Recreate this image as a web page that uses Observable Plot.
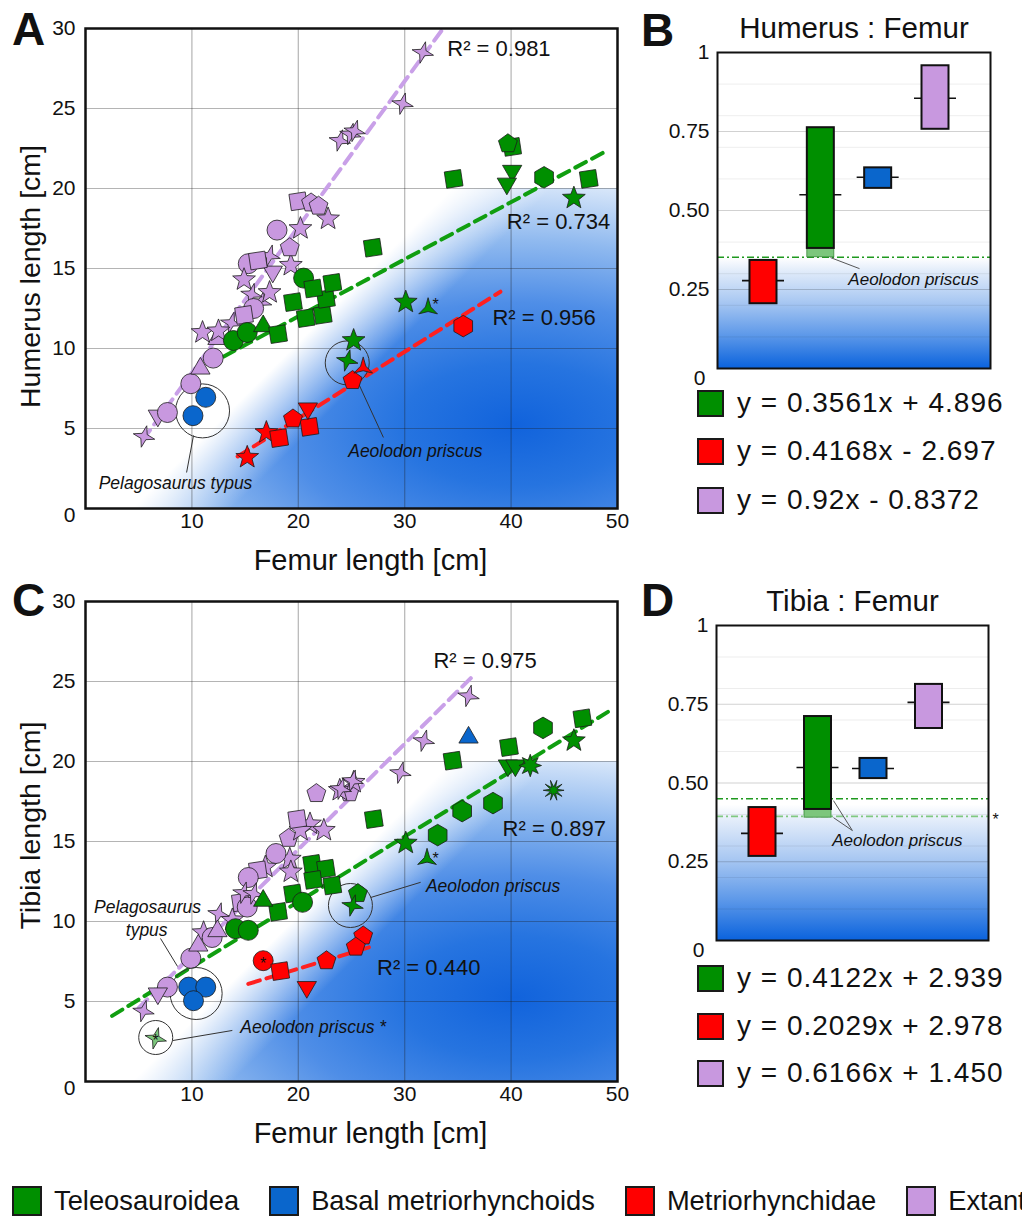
<!DOCTYPE html>
<html><head><meta charset="utf-8">
<script src="https://cdn.jsdelivr.net/npm/d3@7"></script>
<script src="https://cdn.jsdelivr.net/npm/@observablehq/plot@0.6"></script>
<style>
html,body{margin:0;padding:0;background:#fff;}
#root{position:relative;width:1022px;height:1216px;overflow:hidden;font-family:"Liberation Sans",Arial,sans-serif;color:#111;background:#fff;}
.letter{position:absolute;font-weight:bold;font-size:46px;line-height:46px;}
.eq{position:absolute;display:flex;align-items:center;height:28px;font-size:28px;letter-spacing:1px;white-space:nowrap;}
.eq .sw{width:23px;height:23px;border:2px solid #1a1a1a;margin-right:13px;flex:none;}
#bottomLegend{position:absolute;left:12px;top:1185px;display:flex;align-items:center;white-space:nowrap;font-size:27.3px;}
#bottomLegend .item{display:flex;align-items:center;margin-right:30px;}
#bottomLegend .sw{width:26px;height:26px;border:2px solid #1a1a1a;margin-right:12px;flex:none;}
</style></head><body><div id="root"></div><script>
// ---------------- DATA ----------------
// Panel A: femur length (cm), humerus length (cm), symbol
const A_extant = [
  [5.5,4.5,"star4"],[6.8,5.8,"triangleDown"],[7.7,6.0,"circle"],[9.9,7.8,"circle"],
  [10.8,8.75,"triangle"],[12.0,9.4,"circle"],[12.4,10.6,"triangle"],[11.0,11.0,"star5"],
  [12.5,11.1,"star5"],[13.7,11.6,"star4"],[14.9,12.1,"square"],[15.8,12.5,"circle"],
  [16.5,12.9,"star4"],[15.6,13.4,"star4"],[17.3,13.5,"star5"],[14.9,14.3,"star5"],
  [17.6,14.8,"triangleDown"],[15.3,15.3,"circle"],[16.2,15.5,"square"],[17.3,15.8,"star4"],
  [19.3,15.2,"star5"],[19.2,16.3,"pentagon"],[18.0,17.4,"circle"],[20.2,17.5,"star5"],
  [22.8,18.1,"star5"],[20.0,19.2,"square"],[21.2,19.1,"pentagon"],[21.9,18.9,"pentagon"],
  [23.9,23.0,"star4"],[24.9,23.4,"star4"],[25.3,23.6,"star4"],[29.8,25.3,"star4"],[31.7,28.5,"star4"]
];
const A_teleo = [
  [13.9,10.5,"circle"],[15.2,11.0,"circle"],[16.7,11.4,"triangle"],[18.1,10.9,"square"],
  [19.5,12.9,"square"],[20.7,11.9,"square"],[22.3,12.1,"square"],[22.6,13.1,"square"],
  [21.4,13.75,"square"],[23.2,14.1,"square"],[20.5,14.4,"circle"],
  [25.2,10.5,"star5"],[24.6,9.25,"star4"],[30.1,12.9,"star5"],[32.2,12.5,"star3"],
  [27.0,16.3,"square"],[34.6,20.6,"square"],[39.7,22.8,"pentagon"],[40.1,22.6,"square"],
  [40.1,21.1,"triangleDown"],[39.6,20.3,"triangleDown"],[43.1,20.7,"hexagon"],[47.3,20.6,"square"],[45.9,19.4,"star5"]
];
const A_metrio = [
  [15.2,3.2,"star5"],[17.0,4.75,"star5"],[18.2,4.4,"square"],[19.5,5.6,"pentagon"],
  [20.9,6.25,"triangleDown"],[21.05,5.1,"square"],[25.1,8.0,"pentagon"],[26.1,8.8,"star3"],[35.5,11.4,"hexagon"]
];
const A_basal = [[11.3,6.95,"circle"],[10.1,5.8,"circle"]];
const A_fitExtant = [[5.4,4.3],[33.5,29.9]];
const A_fitTeleo = [[13.0,9.5],[49.1,22.4]];
const A_fitMetrio = [[14.3,3.25],[39.0,13.55]];
const A_r2 = [[34.0,28.75,"0.981"],[39.6,17.9,"0.734"],[38.25,11.9,"0.956"]];
const A_notes = [[8.46,1.56,"Pelagosaurus typus"],[31.0,3.56,"Aeolodon priscus"]];
const A_circles = [[11.0,6.1],[24.6,9.1]];
const A_leaders = [[10.15,4.56,9.5,2.25],[25.6,7.9,28.0,4.44]];
const A_asterisks = [[32.9,12.9]];

// Panel C: femur length (cm), tibia length (cm), symbol
const C_extant = [
  [21.7,18.0,"pentagon"],[23.9,18.2,"star5"],[24.8,18.05,"pentagon"],[25.2,18.7,"star5"],
  [19.9,16.4,"square"],[21.1,16.1,"star5"],[20.2,15.7,"star5"],[22.4,15.7,"star5"],
  [19.1,15.2,"pentagon"],[17.9,14.25,"circle"],[19.2,13.9,"star5"],[16.2,13.2,"square"],
  [16.9,13.4,"star5"],[19.3,13.1,"star5"],[15.3,12.75,"circle"],
  [36.0,24.1,"star4"],[31.8,21.3,"star4"],[29.6,19.3,"star4"],[25.1,18.8,"star4"],[24.0,18.3,"star4"],
  [14.85,11.8,"star4"],[14.6,11.2,"square"],[15.2,10.9,"circle"],[15.8,11.75,"star4"],
  [12.5,10.5,"star4"],[13.8,10.1,"star5"],[11.1,9.3,"star5"],[12.4,9.4,"triangle"],
  [11.9,9.0,"circle"],[10.6,8.5,"triangle"],[9.9,7.7,"circle"],[7.7,5.9,"circle"],
  [6.8,5.5,"triangleDown"],[5.45,4.4,"star4"]
];
const C_teleo = [
  [46.7,22.7,"square"],[43.0,22.1,"hexagon"],[45.9,21.3,"star5"],[39.8,20.9,"square"],
  [39.7,19.75,"triangleDown"],[40.4,19.75,"triangleDown"],[41.8,19.75,"star8"],[44.0,18.2,"pinwheel"],
  [38.3,17.4,"hexagon"],[35.4,16.9,"hexagon"],[34.5,20.05,"square"],[27.1,16.4,"square"],
  [33.1,15.4,"hexagon"],[30.1,14.9,"star5"],[32.1,13.9,"star3"],
  [21.3,13.6,"square"],[22.6,13.3,"square"],[21.4,12.6,"square"],[23.2,12.25,"square"],
  [19.5,11.75,"square"],[20.4,11.2,"circle"],[16.7,11.3,"triangle"],[18.1,10.6,"square"],
  [14.1,9.55,"circle"],[15.3,9.45,"circle"],[25.6,11.75,"pentagon"],[25.1,11.0,"star4"]
];
const C_aeolodonAlt = [[6.6,2.7,"star4"]];
const C_metrio = [
  [16.7,7.55,"circle"],[18.3,6.9,"square"],[20.8,5.9,"triangleDown"],[22.65,7.55,"pentagon"],
  [26.1,9.1,"pentagon"],[25.4,8.4,"pentagon"]
];
const C_basal = [[9.7,5.9,"circle"],[11.3,5.9,"circle"],[10.15,5.05,"circle"],[36.0,21.5,"triangle"]];
const C_fitExtant = [[5.0,4.6],[36.5,25.4]];
const C_fitTeleo = [[2.5,4.1],[49.1,23.1]];
const C_fitMetrio = [[15.3,6.1],[27.2,8.5]];
const C_r2 = [[32.7,26.3,"0.975"],[39.2,15.8,"0.897"],[27.4,7.1,"0.440"]];
const C_notes = [[5.83,10.9,"Pelagosaurus"],[5.75,9.44,"typus"],[38.3,12.2,"Aeolodon priscus"],[21.4,3.375,"Aeolodon priscus *"]];
const C_circles = [[10.4,5.5],[24.9,11.0],[6.6,2.75]];
const C_leaders = [[7.05,8.94,8.65,7.19],[26.8,11.5,31.5,12.45],[8.2,2.56,13.8,3.19]];
const C_asterisks = [[32.9,14.1],[16.7,7.55],[6.6,2.7]];

const femurTicks = [10,20,30,40,50];
const lengthTicks = [5,10,15,20,25,30];
const femurGrid = [10,20,30,40];
const lengthGrid = [5,10,15,20,25];
const shadedZone = [{x1:0,x2:50,y1:0,y2:20}];

// Panels B and D: ratio ranges per group
const ratioGroups = ["Metriorhynchidae","Teleosauroidea","Basal metriorhynchoids","Extant"];
const B_low = [0.205,0.38,0.57,0.757];
const B_high = [0.342,0.762,0.635,0.958];
const B_median = [0.278,0.55,0.605,0.855];
const B_aeolodon = [0.352,0.38];
const B_thresholds = [0.352];
const B_shadeTop = 0.35;
const D_low = [0.267,0.416,0.514,0.673];
const D_high = [0.422,0.711,0.578,0.813];
const D_median = [0.34,0.549,0.546,0.756];
const D_aeolodon = [0.39,0.416];
const D_thresholds = [0.45,0.394];
const D_shadeTop = 0.43;
const ratioTicks = [0.25,0.5,0.75,1];
const ratioGrid = [0.1,0.2,0.3,0.4,0.6,0.7,0.8,0.9];
const ratioMajor = [0.25,0.5,0.75];
const B_leaders = [[1.669,0.351,2.175,0.316]];
const B_note = [[3.117,0.282,"Aeolodon priscus"]];
const D_leaders = [[1.779,0.444,2.12,0.349],[1.779,0.39,2.12,0.349]];
const D_note = [[2.93,0.317,"Aeolodon priscus"]];
const D_star = [[4.70,0.394,"*"]];

const B_equations = ["y = 0.3561x + 4.896","y = 0.4168x - 2.697","y = 0.92x - 0.8372"];
const D_equations = ["y = 0.4122x + 2.939","y = 0.2029x + 2.978","y = 0.6166x + 1.450"];
const legendGroups = ["Teleosauroidea","Basal metriorhynchoids","Metriorhynchidae","Extant"];

// ---------------- STYLE ----------------
const GREEN="#008f00", RED="#ff0000", BLUE="#0a66cc", PURPLE="#c898df", LIGHTGREEN="#7cc67c";
const groupColor = {"Teleosauroidea":GREEN,"Basal metriorhynchoids":BLUE,"Metriorhynchidae":RED,"Extant":PURPLE};
const eqColors = [GREEN, RED, PURPLE];
const FONT = '"Liberation Sans", Arial, sans-serif';
const NS = "http://www.w3.org/2000/svg";

function poly(n, rot, k) {
  return {draw(ctx, size) {
    const r = Math.sqrt(size / Math.PI) * k;
    for (let i = 0; i < n; i++) {
      const a = rot + i * 2 * Math.PI / n;
      const x = r * Math.cos(a), y = r * Math.sin(a);
      if (i) ctx.lineTo(x, y); else ctx.moveTo(x, y);
    }
    ctx.closePath();
  }};
}
function star(n, ko, ki, rot) {
  return {draw(ctx, size) {
    const r = Math.sqrt(size / Math.PI);
    for (let i = 0; i < 2 * n; i++) {
      const a = rot + i * Math.PI / n;
      const rr = r * (i % 2 ? ki : ko);
      const x = rr * Math.cos(a), y = rr * Math.sin(a);
      if (i) ctx.lineTo(x, y); else ctx.moveTo(x, y);
    }
    ctx.closePath();
  }};
}
const SYM = {
  circle: {draw(ctx, size) { const r = Math.sqrt(size / Math.PI); ctx.moveTo(r, 0); ctx.arc(0, 0, r, 0, 2 * Math.PI); ctx.closePath(); }},
  square: poly(4, -Math.PI / 4 - 0.15, 1.13),
  triangle: poly(3, -Math.PI / 2, 1.25),
  triangleDown: poly(3, Math.PI / 2, 1.25),
  pentagon: poly(5, -Math.PI / 2, 1.08),
  hexagon: poly(6, -Math.PI / 2, 1.1),
  star5: star(5, 1.3, 0.55, -Math.PI / 2),
  star4: star(4, 1.35, 0.45, -Math.PI / 2 + 0.25),
  star3: star(3, 1.35, 0.38, -Math.PI / 2),
  star8: star(8, 1.25, 0.62, -Math.PI / 2),
  pinwheel: star(10, 1.3, 0.42, 0)
};
const SIZE = {circle:10, square:10.3, triangle:8.9, triangleDown:8.9, pentagon:9.2, hexagon:9.8, star5:9.2, star4:8.2, star3:8, star8:9, pinwheel:8};

function el(tag, attrs, parent) {
  const e = document.createElementNS(NS, tag);
  for (const k in attrs) e.setAttribute(k, attrs[k]);
  if (parent) parent.appendChild(e);
  return e;
}

function scatterDefs(id) {
  return (index, scales) => {
    const cx = scales.x(40.5), cy = scales.y(5.2);
    const defs = el("defs", {});
    const rg = el("radialGradient", {id: id + "r", gradientUnits: "userSpaceOnUse", cx: 0, cy: 0, r: 1,
      gradientTransform: `translate(${cx},${cy}) scale(460,245)`}, defs);
    [[0,"#1163dc"],[0.25,"#2674e0"],[0.5,"#4f8ee7"],[0.75,"#8fb9ef"],[1,"#dce9fa"]]
      .forEach(([o, c]) => el("stop", {offset: o, "stop-color": c}, rg));
    const lg = el("linearGradient", {id: id + "w", gradientUnits: "userSpaceOnUse",
      x1: cx - 150, y1: cy - 150, x2: cx - 100, y2: cy - 100}, defs);
    el("stop", {offset: 0, "stop-color": "#fff", "stop-opacity": 1}, lg);
    el("stop", {offset: 1, "stop-color": "#fff", "stop-opacity": 0}, lg);
    return defs;
  };
}

function dotMarks(sets) {
  const marks = [];
  for (const [data, color] of sets) {
    const shapes = [...new Set(data.map(d => d[2]))];
    for (const s of shapes) {
      marks.push(Plot.dot(data.filter(d => d[2] === s), {
        x: d => d[0], y: d => d[1], symbol: SYM[s], r: SIZE[s],
        fill: color, stroke: "#1c1c1c", strokeWidth: 0.8
      }));
    }
  }
  return marks;
}

function scatter({id, yLabel, yLabelDy, sets, fits, r2, notes, circles, radii, leaders, asterisks}) {
  return Plot.plot({
    width: 620, height: 590, marginLeft: 85, marginRight: 3, marginTop: 28, marginBottom: 82,
    x: {domain: [0, 50]}, y: {domain: [0, 30]},
    style: {fontFamily: FONT, fontSize: "21px", background: "transparent", overflow: "visible", color: "#111"},
    marks: [
      scatterDefs(id),
      Plot.rect(shadedZone, {x1: "x1", x2: "x2", y1: "y1", y2: "y2", fill: `url(#${id}r)`}),
      Plot.rect(shadedZone, {x1: "x1", x2: "x2", y1: "y1", y2: "y2", fill: `url(#${id}w)`}),
      Plot.gridX(femurGrid, {stroke: "#1a1a1a", strokeOpacity: 0.33, strokeWidth: 1.2}),
      Plot.gridY(lengthGrid, {stroke: "#1a1a1a", strokeOpacity: 0.33, strokeWidth: 1.2}),
      ...fits.map(([pts, color]) => Plot.line(pts, {x: d => d[0], y: d => d[1], stroke: color, strokeWidth: 4, strokeDasharray: "12,7"})),
      ...circles.map((c, i) => Plot.dot([c], {x: d => d[0], y: d => d[1], r: radii[i], fill: "none", stroke: "#333", strokeWidth: 1})),
      Plot.link(leaders, {x1: d => d[0], y1: d => d[1], x2: d => d[2], y2: d => d[3], stroke: "#333", strokeWidth: 1}),
      ...dotMarks(sets),
      Plot.text(asterisks, {x: d => d[0], y: d => d[1], text: () => "*", fontSize: 16, dy: 3, fill: "#111"}),
      Plot.text(r2, {x: d => d[0], y: d => d[1], text: d => "R² = " + d[2], textAnchor: "start", fontSize: 22}),
      Plot.text(notes, {x: d => d[0], y: d => d[1], text: d => d[2], fontSize: 17.5, fontStyle: "italic"}),
      Plot.frame({stroke: "#111", strokeWidth: 2.5}),
      Plot.axisX(femurTicks, {tickSize: 0, tickPadding: 5, fontSize: 21, label: null}),
      Plot.axisY(lengthTicks, {tickSize: 0, tickPadding: 10, fontSize: 21, label: null}),
      Plot.text(["0"], {frameAnchor: "bottom-left", text: d => d, dx: -10, dy: 7, textAnchor: "end", lineAnchor: "middle", fontSize: 21}),
      Plot.text(["Femur length [cm]"], {frameAnchor: "bottom", text: d => d, dx: 19, dy: 52, lineAnchor: "middle", textAnchor: "middle", fontSize: 29}),
      Plot.text([yLabel], {frameAnchor: "left", text: d => d, rotate: -90, dx: -55, dy: yLabelDy, textAnchor: "middle", lineAnchor: "middle", fontSize: 28.5})
    ]
  });
}

function ratio({id, title, low, high, med, ext, thresholds, shadeTop, xr, ml, mr, mt, mb, leaders, note, star: stars}) {
  const unit = (xr[1] - xr[0]) / 4;
  const bh = 13.5 / unit, mh = 21 / unit;
  const rows = ratioGroups.map((g, i) => ({g, c: i + 0.5, lo: low[i], hi: high[i], med: med[i], color: groupColor[g]}));
  const extRow = [{c: 1.5, lo: ext[0], hi: ext[1]}];
  const defs = () => {
    const d = el("defs", {});
    const lg = el("linearGradient", {id: id + "l", x1: 0, y1: 0, x2: 0, y2: 1}, d);
    [[0,"#ffffff"],[0.12,"#e2ecfa"],[0.4,"#a9c8f2"],[0.7,"#5e99e9"],[1,"#0b63dd"]]
      .forEach(([o, c]) => el("stop", {offset: o, "stop-color": c}, lg));
    return d;
  };
  return Plot.plot({
    width: 382, height: 390, marginLeft: ml, marginRight: mr, marginTop: mt, marginBottom: mb,
    x: {domain: [0, 4], range: xr, axis: null}, y: {domain: [0, 1]},
    style: {fontFamily: FONT, fontSize: "21px", background: "transparent", overflow: "visible", color: "#111"},
    marks: [
      defs,
      Plot.rect([{y1: 0, y2: shadeTop}], {y1: "y1", y2: "y2", fill: `url(#${id}l)`}),
      Plot.gridY(ratioGrid, {stroke: "#000", strokeOpacity: 0.07, strokeWidth: 1}),
      Plot.gridY(ratioMajor, {stroke: "#000", strokeOpacity: 0.18, strokeWidth: 1}),
      Plot.ruleY(thresholds, {stroke: (d, i) => i === 0 ? "#1f991f" : "#80c880", strokeWidth: 1.6, strokeDasharray: "7,3,2,3"}),
      Plot.ruleY(rows, {x1: d => d.c - mh, x2: d => d.c + mh, y: "med", stroke: "#111", strokeWidth: 1.6}),
      Plot.rect(extRow, {x1: d => d.c - bh, x2: d => d.c + bh, y1: "lo", y2: "hi", fill: LIGHTGREEN, stroke: "#3a8a3a", strokeWidth: 0.8}),
      Plot.rect(rows, {x1: d => d.c - bh, x2: d => d.c + bh, y1: "lo", y2: "hi", fill: d => d.color, stroke: "#111", strokeWidth: 2}),
      Plot.link(leaders, {x1: d => d[0], y1: d => d[1], x2: d => d[2], y2: d => d[3], stroke: "#444", strokeWidth: 0.9}),
      Plot.text(note, {x: d => d[0], y: d => d[1], text: d => d[2], fontSize: 17, fontStyle: "italic"}),
      Plot.text(stars, {x: d => d[0], y: d => d[1], text: d => d[2], fontSize: 16, dy: 3}),
      Plot.frame({stroke: "#111", strokeWidth: 2}),
      Plot.axisY(ratioTicks, {tickSize: 0, tickPadding: 8, fontSize: 21, label: null, tickFormat: d => d === 1 ? "1" : d.toFixed(2)}),
      Plot.text(["0"], {frameAnchor: "bottom-left", text: d => d, dx: -12, dy: 10, textAnchor: "end", lineAnchor: "middle", fontSize: 21}),
      Plot.text([title], {frameAnchor: "top", text: d => d, dy: -24, lineAnchor: "middle", textAnchor: "middle", fontSize: 29.5})
    ]
  });
}

// ---------------- BUILD ----------------
const root = document.getElementById("root");
function place(node, left, top) {
  node.style.position = "absolute"; node.style.left = left + "px"; node.style.top = top + "px";
  root.appendChild(node);
}

const chartA = scatter({
  id: "gA", yLabel: "Humerus length [cm]", yLabelDy: 8,
  sets: [[A_extant, PURPLE], [A_teleo, GREEN], [A_metrio, RED], [A_basal, BLUE]],
  fits: [[A_fitExtant, "#c9a0e8"], [A_fitTeleo, "#109e10"], [A_fitMetrio, "#ff2020"]],
  r2: A_r2, notes: A_notes, circles: A_circles, radii: [27, 22], leaders: A_leaders, asterisks: A_asterisks
});
place(chartA, 0, 0);

const chartC = scatter({
  id: "gC", yLabel: "Tibia length [cm]", yLabelDy: -16,
  sets: [[C_extant, PURPLE], [C_teleo, GREEN], [C_aeolodonAlt, LIGHTGREEN], [C_metrio, RED], [C_basal, BLUE]],
  fits: [[C_fitExtant, "#c9a0e8"], [C_fitTeleo, "#109e10"], [C_fitMetrio, "#ff2020"]],
  r2: C_r2, notes: C_notes, circles: C_circles, radii: [26, 22, 17], leaders: C_leaders, asterisks: C_asterisks
});
place(chartC, 0, 573);

const chartB = ratio({
  id: "gB", title: "Humerus : Femur", low: B_low, high: B_high, med: B_median, ext: B_aeolodon,
  thresholds: B_thresholds, shadeTop: B_shadeTop, xr: [94.33, 323.67], ml: 77, mr: 32, mt: 52, mb: 22,
  leaders: B_leaders, note: B_note, star: []
});
place(chartB, 640, 0);

const chartD = ratio({
  id: "gD", title: "Tibia : Femur", low: D_low, high: D_high, med: D_median, ext: D_aeolodon,
  thresholds: D_thresholds, shadeTop: D_shadeTop, xr: [94.25, 316.25], ml: 76, mr: 34, mt: 55, mb: 20,
  leaders: D_leaders, note: D_note, star: D_star
});
place(chartD, 640, 570);

// panel letters
[["A", 12, 6], ["B", 641, 7], ["C", 12, 577], ["D", 641, 577]].forEach(([t, l, tp]) => {
  const d = document.createElement("div");
  d.className = "letter"; d.textContent = t; d.style.left = l + "px"; d.style.top = tp + "px";
  root.appendChild(d);
});

// equation legends
function eqLegend(eqs, left, tops) {
  eqs.forEach((t, i) => {
    const row = document.createElement("div");
    row.className = "eq"; row.style.left = left + "px"; row.style.top = tops[i] + "px";
    const sw = document.createElement("div"); sw.className = "sw"; sw.style.background = eqColors[i];
    const tx = document.createElement("span"); tx.textContent = t;
    row.appendChild(sw); row.appendChild(tx); root.appendChild(row);
  });
}
eqLegend(B_equations, 697, [389, 437, 486]);
eqLegend(D_equations, 697, [964, 1012, 1059]);

// bottom legend (the last entry runs past the right edge, as in the reference)
const bl = document.createElement("div"); bl.id = "bottomLegend";
legendGroups.forEach(g => {
  const it = document.createElement("div"); it.className = "item";
  const sw = document.createElement("div"); sw.className = "sw"; sw.style.background = groupColor[g];
  const tx = document.createElement("span"); tx.textContent = g;
  it.appendChild(sw); it.appendChild(tx); bl.appendChild(it);
});
root.appendChild(bl);
</script></body></html>
